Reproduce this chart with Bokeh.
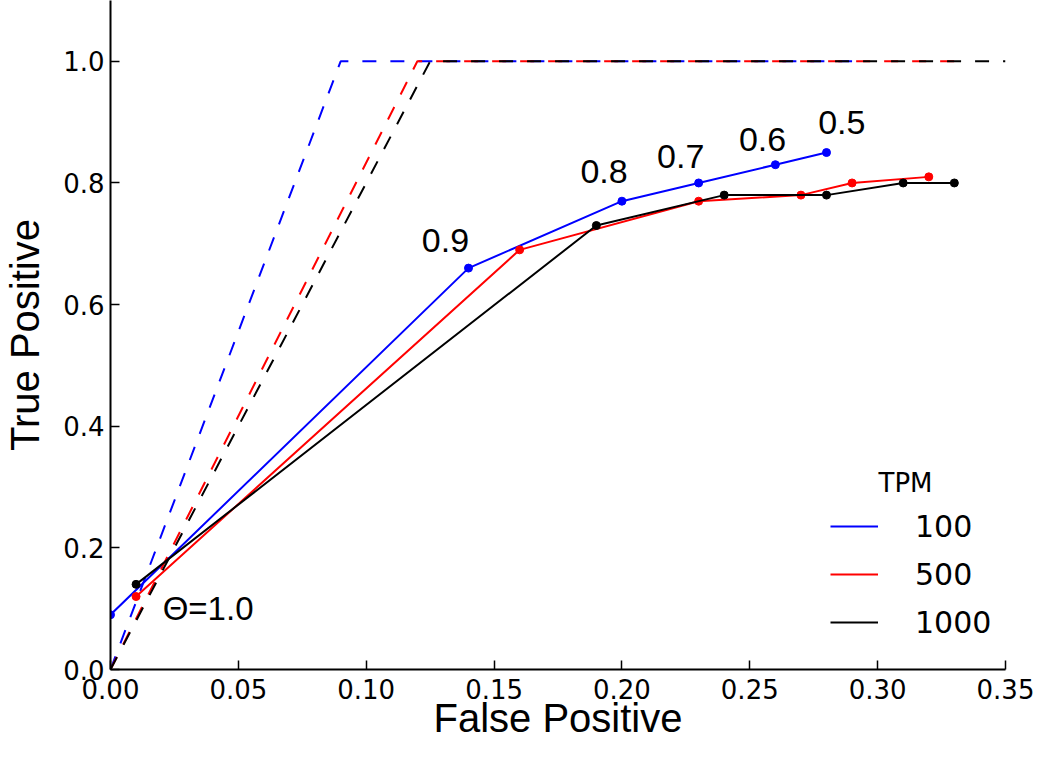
from bokeh.plotting import figure
from bokeh.models import Range1d, FixedTicker, Legend, LegendItem, Label, NumeralTickFormatter
from bokeh.embed import file_html
from bokeh.resources import INLINE

# ---- data ----
fp_100 = [0.0, 0.14, 0.20, 0.23, 0.26, 0.28]
tp_100 = [0.09, 0.66, 0.77, 0.80, 0.83, 0.85]
fp_500 = [0.01, 0.16, 0.23, 0.27, 0.29, 0.32]
tp_500 = [0.12, 0.69, 0.77, 0.78, 0.80, 0.81]
fp_1000 = [0.01, 0.19, 0.24, 0.28, 0.31, 0.33]
tp_1000 = [0.14, 0.73, 0.78, 0.78, 0.80, 0.80]

ideal_fp_100 = [0.0, 0.09, 0.29]
ideal_fp_500 = [0.0, 0.12, 0.33]
ideal_fp_1000 = [0.0, 0.125, 0.35]
ideal_tp = [0.0, 1.0, 1.0]

series_names = ["100", "500", "1000"]
series_colors = ["#0000ff", "#ff0000", "#000000"]

theta_labels = ["0.9", "0.8", "0.7", "0.6", "0.5"]
theta_label_x = [0.131, 0.193, 0.223, 0.255, 0.286]
theta_label_y = [0.706, 0.819, 0.844, 0.872, 0.899]
x_ticks = [0.0, 0.05, 0.10, 0.15, 0.20, 0.25, 0.30, 0.35]
y_ticks = [0.0, 0.2, 0.4, 0.6, 0.8, 1.0]

p = figure(width=1034, height=749, output_backend="svg", toolbar_location=None,
           x_range=Range1d(0, 0.35), y_range=Range1d(0, 1.1),
           min_border_left=110, min_border_right=29, min_border_top=0, min_border_bottom=80)
p.outline_line_color = None
p.grid.visible = False
p.background_fill_color = "white"

for ax in (p.xaxis[0], p.yaxis[0]):
    ax.axis_line_width = 2
    ax.axis_line_color = "black"
    ax.major_tick_in = 9
    ax.major_tick_out = 0
    ax.major_tick_line_width = 1.5
    ax.minor_tick_line_color = None
    ax.major_label_text_font = "DejaVu Sans"
    ax.major_label_text_font_size = "26px"
    ax.major_label_text_color = "black"
    ax.axis_label_text_font = "Liberation Sans"
    ax.axis_label_text_font_size = "40px"
    ax.axis_label_text_font_style = "normal"
    ax.axis_label_text_color = "black"

p.xaxis.ticker = FixedTicker(ticks=x_ticks)
p.yaxis.ticker = FixedTicker(ticks=y_ticks)
p.xaxis.formatter = NumeralTickFormatter(format="0.00")
p.yaxis.formatter = NumeralTickFormatter(format="0.0")
p.xaxis.major_label_standoff = 9
p.yaxis.major_label_standoff = 6
p.xaxis.axis_label = "False Positive"
p.yaxis.axis_label = "True Positive"
p.xaxis.axis_label_standoff = -6
p.yaxis.axis_label_standoff = 13

solid = []
for fp, tp, ifp, col in [(fp_100, tp_100, ideal_fp_100, series_colors[0]),
                         (fp_500, tp_500, ideal_fp_500, series_colors[1]),
                         (fp_1000, tp_1000, ideal_fp_1000, series_colors[2])]:
    p.line(ifp, ideal_tp, line_color=col, line_width=2, line_dash="14 14")
    r = p.line(fp, tp, line_color=col, line_width=2)
    p.scatter(fp, tp, size=8, fill_color=col, line_color=col)
    solid.append(r)

for txt, lx, ly in zip(theta_labels, theta_label_x, theta_label_y):
    p.add_layout(Label(x=lx, y=ly, text=txt, text_align="center", text_baseline="middle",
                       text_font="Liberation Sans", text_font_size="34px", text_color="black"))

p.add_layout(Label(x=0.0204, y=0.100, text="\u0398=1.0", text_align="left", text_baseline="middle",
                   text_font="Liberation Sans", text_font_size="33px", text_color="black"))

legend = Legend(items=[LegendItem(label=n, renderers=[r]) for n, r in zip(series_names, solid)],
                location=(720, 27), orientation="vertical",
                glyph_width=48, glyph_height=40, label_height=40, label_standoff=37, spacing=8,
                padding=0, margin=0, border_line_color=None, background_fill_alpha=0,
                label_text_font="DejaVu Sans", label_text_font_size="30px", label_text_color="black")
p.add_layout(legend)

p.add_layout(Label(x=768, y=187, x_units="screen", y_units="screen", text="TPM", text_align="left",
                   text_baseline="alphabetic", text_font="DejaVu Sans", text_font_size="26px",
                   text_color="black"))

open("out.html", "w").write(file_html(p, INLINE))
